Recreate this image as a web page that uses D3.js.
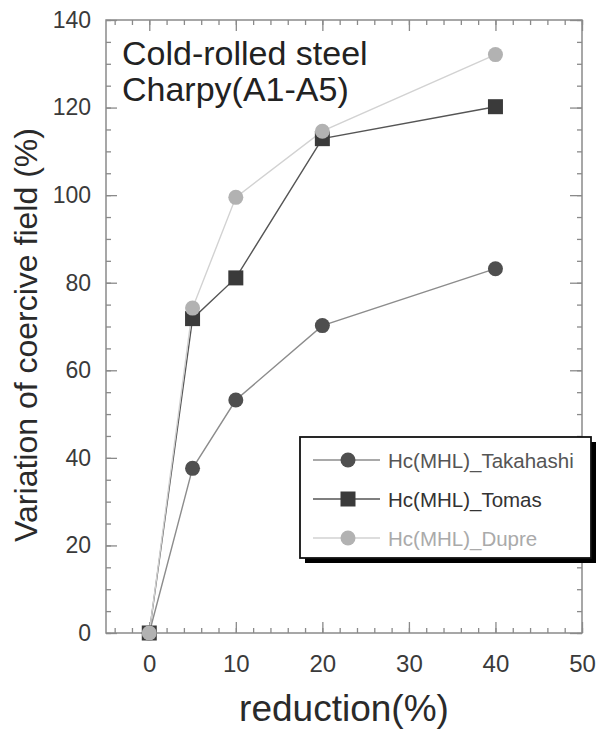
<!DOCTYPE html>
<html>
<head>
<meta charset="utf-8">
<script src="https://cdn.jsdelivr.net/npm/d3@7"></script>
<style>
  html, body { margin: 0; padding: 0; background: #ffffff; }
  svg { display: block; font-family: "Liberation Sans", Arial, sans-serif; }
</style>
</head>
<body>
<svg id="chart" width="599" height="732"></svg>
<script>
// ---- data ----
const reduction = [0, 5, 10, 20, 40];
const takahashi = [0, 37.6, 53.2, 70.2, 83.2];
const tomas     = [0, 71.8, 81.1, 112.9, 120.2];
const dupre     = [0, 74.2, 99.5, 114.6, 132.1];
const seriesNames = ["Hc(MHL)_Takahashi", "Hc(MHL)_Tomas", "Hc(MHL)_Dupre"];
const xTickLabels = [0, 10, 20, 30, 40, 50];
const yTickLabels = [0, 20, 40, 60, 80, 100, 120, 140];
const annotation = ["Cold-rolled steel", "Charpy(A1-A5)"];
const xTitle = "reduction(%)";
const yTitle = "Variation of coercive field (%)";

const series = [
  { name: seriesNames[0], values: takahashi, shape: "circle", fill: "#4f4f4f", line: "#8c8c8c", text: "#555555" },
  { name: seriesNames[1], values: tomas,     shape: "square", fill: "#3a3a3a", line: "#555555", text: "#333333" },
  { name: seriesNames[2], values: dupre,     shape: "circle", fill: "#b2b2b2", line: "#d2d2d2", text: "#aaaaaa" }
];

const svg = d3.select("#chart");
const x = d3.scaleLinear().domain([-5, 50]).range([106, 582]);
const y = d3.scaleLinear().domain([0, 140]).range([633, 20]);

const axisColor = "#8a8a8a";

// frame
svg.append("rect")
  .attr("x", x.range()[0]).attr("y", y.range()[1])
  .attr("width", x.range()[1] - x.range()[0])
  .attr("height", y.range()[0] - y.range()[1])
  .attr("fill", "none").attr("stroke", axisColor).attr("stroke-width", 1.5);

function styleAxis(g) {
  g.select(".domain").remove();
  g.selectAll(".tick line").attr("stroke", axisColor).attr("stroke-width", 1.3);
  g.selectAll(".tick text").attr("fill", "#3a3a3a");
}

const xMinor = d3.range(-4, 51, 2);
const yMinor = d3.range(0, 141, 5);

// bottom
svg.append("g").attr("transform", `translate(0,${y(0)})`)
  .call(d3.axisBottom(x).tickValues(xMinor).tickSize(-5).tickFormat(""))
  .call(styleAxis);
svg.append("g").attr("transform", `translate(0,${y(0)})`)
  .call(d3.axisBottom(x).tickValues(xTickLabels).tickSize(-11).tickPadding(22).tickFormat(d3.format("d")))
  .call(styleAxis)
  .call(g => g.selectAll(".tick text").attr("font-size", 24));
// top
svg.append("g").attr("transform", `translate(0,${y(140)})`)
  .call(d3.axisTop(x).tickValues(xMinor).tickSize(-5).tickFormat(""))
  .call(styleAxis);
svg.append("g").attr("transform", `translate(0,${y(140)})`)
  .call(d3.axisTop(x).tickValues(xTickLabels).tickSize(-11).tickFormat(""))
  .call(styleAxis);
// left
svg.append("g").attr("transform", `translate(${x(-5)},0)`)
  .call(d3.axisLeft(y).tickValues(yMinor).tickSize(-5).tickFormat(""))
  .call(styleAxis);
svg.append("g").attr("transform", `translate(${x(-5)},0)`)
  .call(d3.axisLeft(y).tickValues(yTickLabels).tickSize(-11).tickPadding(15).tickFormat(d3.format("d")))
  .call(styleAxis)
  .call(g => g.selectAll(".tick text").attr("font-size", 23));
// right
svg.append("g").attr("transform", `translate(${x(50)},0)`)
  .call(d3.axisRight(y).tickValues(yMinor).tickSize(-5).tickFormat(""))
  .call(styleAxis);
svg.append("g").attr("transform", `translate(${x(50)},0)`)
  .call(d3.axisRight(y).tickValues(yTickLabels).tickSize(-12).tickFormat(""))
  .call(styleAxis);

// lines and markers
const line = d3.line().x(d => x(d[0])).y(d => y(d[1]));
function drawMarker(g, shape, cx, cy, fill) {
  if (shape === "circle") {
    g.append("circle").attr("cx", cx).attr("cy", cy).attr("r", 7.5).attr("fill", fill);
  } else {
    g.append("rect").attr("x", cx - 7.5).attr("y", cy - 7.5).attr("width", 15).attr("height", 15).attr("fill", fill);
  }
}
series.forEach(s => {
  const pts = reduction.map((r, i) => [r, s.values[i]]);
  svg.append("path").attr("d", line(pts)).attr("fill", "none")
    .attr("stroke", s.line).attr("stroke-width", 1.4);
});
series.forEach(s => {
  const g = svg.append("g");
  reduction.forEach((r, i) => drawMarker(g, s.shape, x(r), y(s.values[i]), s.fill));
});

// annotation
svg.append("g").selectAll("text").data(annotation).join("text")
  .attr("x", 122).attr("y", (d, i) => 65 + i * 36)
  .attr("font-size", 34).attr("fill", "#222222").text(d => d);

// legend
const lg = svg.append("g");
lg.append("rect").attr("x", 305).attr("y", 442).attr("width", 291).attr("height", 121).attr("fill", "#000");
lg.append("rect").attr("x", 300).attr("y", 437).attr("width", 291).attr("height", 121)
  .attr("fill", "#ffffff").attr("stroke", "#111").attr("stroke-width", 1.8);
series.forEach((s, i) => {
  const cy = 460 + i * 39;
  lg.append("line").attr("x1", 313).attr("x2", 380).attr("y1", cy).attr("y2", cy)
    .attr("stroke", s.line).attr("stroke-width", 1.4);
  drawMarker(lg, s.shape, 348, cy, s.fill);
  lg.append("text").attr("x", 388).attr("y", cy + 7.5).attr("font-size", 20.5)
    .attr("fill", s.text).text(s.name);
});

// axis titles
svg.append("text").attr("x", 344).attr("y", 721).attr("text-anchor", "middle")
  .attr("font-size", 37).attr("fill", "#2a2a2a").text(xTitle);
svg.append("text").attr("transform", "translate(37,335) rotate(-90)").attr("text-anchor", "middle")
  .attr("font-size", 32).attr("fill", "#2a2a2a").text(yTitle);
</script>
</body>
</html>
